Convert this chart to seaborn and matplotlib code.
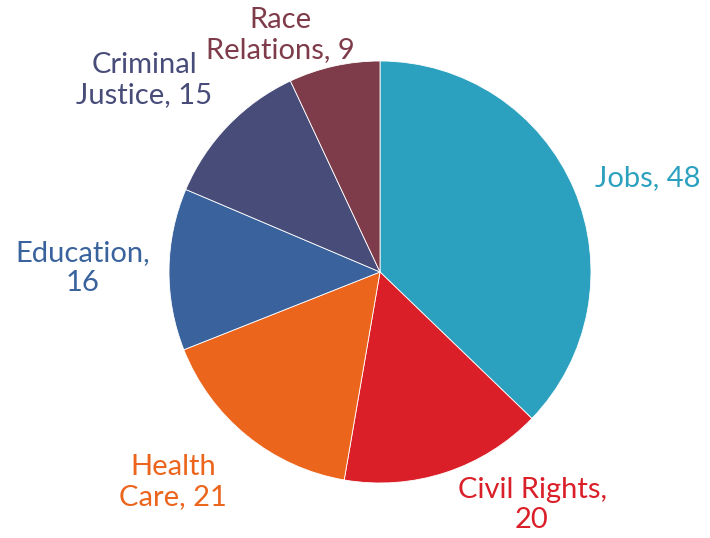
import matplotlib
matplotlib.use("Agg")
import matplotlib.pyplot as plt
import seaborn as sns

categories = ["Jobs", "Civil Rights", "Health Care", "Education", "Criminal Justice", "Race Relations"]
values = [48, 20, 21, 16, 15, 9]
label_texts = ["Jobs, 48", "Civil Rights,\n20", "Health\nCare, 21", "Education,\n16",
               "Criminal\nJustice, 15", "Race\nRelations, 9"]
colors = ["#2CA1BF", "#DA1F29", "#EB651D", "#3A639D", "#484C79", "#7E3B4A"]

sns.set_theme(style="white")
plt.rcParams['font.family'] = ['Lato', 'DejaVu Sans']

W, H = 710, 538
cx, cy, R = 380, 272, 211

fig = plt.figure(figsize=(W / 100, H / 100), dpi=100)
ax = fig.add_axes([0, 0, 1, 1])
wedges, _ = ax.pie(values, colors=colors, startangle=90, counterclock=False,
                   radius=1, wedgeprops=dict(edgecolor="white", linewidth=0.6))
ax.set_xlim(-cx / R, (W - cx) / R)
ax.set_ylim(-(H - cy) / R, cy / R)
ax.set_aspect("auto")
ax.axis("off")

# label centers in pixels (from top-left)
label_pos = [(648, 178), (532, 505), (173, 482), (83, 268), (144, 80), (280, 35)]
for (px, py), txt, col in zip(label_pos, label_texts, colors):
    ax.text((px - cx) / R, (cy - py) / R, txt, color=col, fontsize=21,
            ha="center", va="center", linespacing=1.15)

fig.savefig("out.png", dpi=100)
